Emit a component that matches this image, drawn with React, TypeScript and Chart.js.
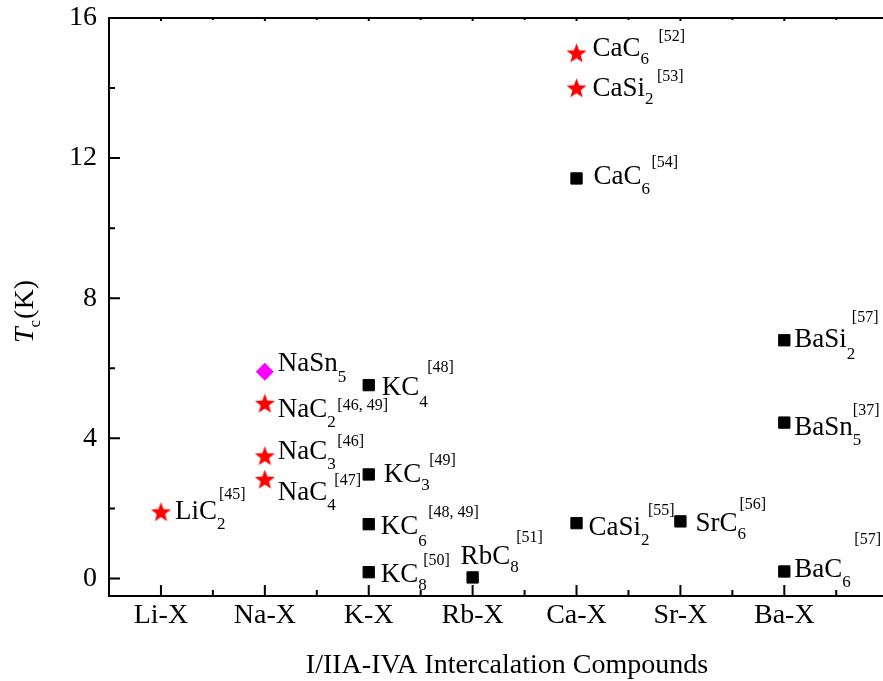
import React, { useEffect, useRef } from "react";
import { Chart, registerables } from "chart.js";

Chart.register(...registerables);

// Host families on the x axis (index 1..7)
const hosts = ["Li-X", "Na-X", "K-X", "Rb-X", "Ca-X", "Sr-X", "Ba-X"];
const yTicks = [0, 4, 8, 12, 16];

// Red stars
const starHost = [1, 2, 2, 2, 5, 5];
const starTc = [1.9, 5.0, 3.5, 2.83, 15.0, 14.0];
const starBase = ["LiC", "NaC", "NaC", "NaC", "CaC", "CaSi"];
const starSub = ["2", "2", "3", "4", "6", "2"];
const starRef = ["[45]", "[46, 49]", "[46]", "[47]", "[52]", "[53]"];

// Magenta diamond
const diamondHost = [2];
const diamondTc = [5.9];
const diamondBase = ["NaSn"];
const diamondSub = ["5"];
const diamondRef = [""];

// Black squares
const squareHost = [3, 3, 3, 3, 4, 5, 5, 6, 7, 7, 7];
const squareTc = [5.52, 2.97, 1.55, 0.18, 0.03, 11.42, 1.58, 1.63, 6.8, 4.45, 0.2];
const squareBase = ["KC", "KC", "KC", "KC", "RbC", "CaC", "CaSi", "SrC", "BaSi", "BaSn", "BaC"];
const squareSub = ["4", "3", "6", "8", "8", "6", "2", "6", "2", "5", "6"];
const squareRef = ["[48]", "[49]", "[48, 49]", "[50]", "[51]", "[54]", "[55]", "[56]", "[57]", "[37]", "[57]"];

// Label placement in pixels: [dx, dy, subDy, supDx, supDy]
const starOffsets = [
  [14, 7, 10, 2, -20],
  [13, 14, 10, 10, -7],
  [13, 3, 10, 10, -13],
  [13, 21, 10, 7, -15],
  [16, 3, 8, 18, -15],
  [16, 8, 8, 12, -15],
];
const diamondOffsets = [[13, -1, 11, 0, 0]];
const squareOffsets = [
  [13, 10, 12, 8, -23],
  [15, 8, 8, 8, -17],
  [12, 10, 12, 10, -17],
  [12, 10, 8, 5, -17],
  [-12, -13, 8, 6, -22],
  [17, 6, 10, 10, -17],
  [12, 12, 10, 7, -20],
  [15, 10, 8, 2, -22],
  [10, 7, 12, 5, -25],
  [10, 12, 10, 0, -20],
  [10, 6, 10, 12, -33],
];

const SERIF = "'Times New Roman', 'Liberation Serif', serif";

function makeStar(r: number, color: string): HTMLCanvasElement {
  const s = Math.ceil(r * 2) + 2;
  const c = document.createElement("canvas");
  c.width = s;
  c.height = s;
  const g = c.getContext("2d")!;
  g.fillStyle = color;
  g.beginPath();
  for (let k = 0; k < 10; k++) {
    const rad = k % 2 ? r * 0.42 : r;
    const a = -Math.PI / 2 + (k * Math.PI) / 5;
    g.lineTo(s / 2 + rad * Math.cos(a), s / 2 + rad * Math.sin(a) + r * 0.08);
  }
  g.closePath();
  g.fill();
  return c;
}

const toPoints = (xs: number[], ys: number[]) => xs.map((x, i) => ({ x, y: ys[i] }));

const labelSets = [
  { base: starBase, sub: starSub, ref: starRef, off: starOffsets },
  { base: diamondBase, sub: diamondSub, ref: diamondRef, off: diamondOffsets },
  { base: squareBase, sub: squareSub, ref: squareRef, off: squareOffsets },
];

const frameAndTicks = {
  id: "frameAndTicks",
  beforeDatasetsDraw(chart: any) {
    const { ctx, chartArea } = chart;
    const { left, right, top, bottom } = chartArea;
    const xs = chart.scales.x;
    const ys = chart.scales.y;
    ctx.save();
    ctx.strokeStyle = "#000";
    ctx.lineWidth = 2;
    ctx.beginPath();
    ctx.moveTo(left - 1, top);
    ctx.lineTo(right + 2, top);
    ctx.moveTo(left, top - 1);
    ctx.lineTo(left, bottom + 1);
    ctx.moveTo(left - 1, bottom);
    ctx.lineTo(right + 2, bottom);
    ctx.stroke();

    ctx.beginPath();
    // x ticks (bottom and top, pointing inward)
    for (let i = 0; i < hosts.length; i++) {
      const major = xs.getPixelForValue(i + 1);
      const minor = xs.getPixelForValue(i + 1.5);
      ctx.moveTo(major, bottom);
      ctx.lineTo(major, bottom - 11);
      ctx.moveTo(major, top);
      ctx.lineTo(major, top + 3);
      if (minor < right) {
        ctx.moveTo(minor, bottom);
        ctx.lineTo(minor, bottom - 6);
        ctx.moveTo(minor, top);
        ctx.lineTo(minor, top + 2);
      }
    }
    // y ticks
    for (let i = 0; i < yTicks.length; i++) {
      const major = ys.getPixelForValue(yTicks[i]);
      ctx.moveTo(left, major);
      ctx.lineTo(left + 11, major);
      if (i < yTicks.length - 1) {
        const minor = ys.getPixelForValue((yTicks[i] + yTicks[i + 1]) / 2);
        ctx.moveTo(left, minor);
        ctx.lineTo(left + 6, minor);
      }
    }
    ctx.stroke();
    ctx.restore();
  },
  afterDatasetsDraw(chart: any) {
    const { ctx } = chart;
    ctx.save();
    ctx.fillStyle = "#000";
    ctx.textBaseline = "alphabetic";
    ctx.textAlign = "left";
    labelSets.forEach((set, di) => {
      const meta = chart.getDatasetMeta(di);
      meta.data.forEach((el: any, j: number) => {
        const [dx, dy, subDy, supDx, supDy] = set.off[j];
        const x0 = el.x + dx;
        const y0 = el.y + dy;
        ctx.font = `27px ${SERIF}`;
        ctx.fillText(set.base[j], x0, y0);
        const w = ctx.measureText(set.base[j]).width;
        ctx.font = `17px ${SERIF}`;
        ctx.fillText(set.sub[j], x0 + w, y0 + subDy);
        if (set.ref[j]) {
          ctx.font = `16px ${SERIF}`;
          ctx.fillText(set.ref[j], x0 + w + supDx, y0 + supDy);
        }
      });
    });

    // axis titles
    ctx.textAlign = "center";
    ctx.font = `28px ${SERIF}`;
    ctx.fillText("I/IIA-IVA Intercalation Compounds", 507, 673);

    ctx.translate(33, 343);
    ctx.rotate(-Math.PI / 2);
    ctx.textAlign = "left";
    ctx.font = `italic 28px ${SERIF}`;
    ctx.fillText("T", 0, 0);
    let w = ctx.measureText("T").width;
    ctx.font = `17px ${SERIF}`;
    ctx.fillText("c", w, 7);
    w += ctx.measureText("c").width + 1;
    ctx.font = `28px ${SERIF}`;
    ctx.fillText("(K)", w, 0);
    ctx.restore();
  },
};

export default function App() {
  const ref = useRef<HTMLCanvasElement | null>(null);

  useEffect(() => {
    if (!ref.current) return;
    const star = makeStar(10.5, "#ff0000");
    const chart = new Chart(ref.current, {
      type: "scatter",
      data: {
        datasets: [
          {
            label: "stars",
            data: toPoints(starHost, starTc),
            pointStyle: star as any,
            pointRadius: 10,
            backgroundColor: "#ff0000",
          },
          {
            label: "diamond",
            data: toPoints(diamondHost, diamondTc),
            pointStyle: "rectRot",
            pointRadius: 9,
            backgroundColor: "#ff00ff",
            borderColor: "#ff00ff",
            borderWidth: 0,
          },
          {
            label: "squares",
            data: toPoints(squareHost, squareTc),
            pointStyle: "rect",
            pointRadius: 8,
            backgroundColor: "#000",
            borderColor: "#000",
            borderWidth: 1,
          },
        ],
      },
      options: {
        responsive: false,
        animation: false,
        events: [],
        layout: { autoPadding: false, padding: { top: 18, right: 0, left: 0, bottom: 0 } },
        plugins: { legend: { display: false }, tooltip: { enabled: false } },
        scales: {
          x: {
            type: "linear",
            min: 0.5,
            max: 7.95,
            grid: { display: false, drawTicks: false },
            border: { display: false },
            afterBuildTicks: (axis: any) => {
              axis.ticks = hosts.map((_, i) => ({ value: i + 1 }));
            },
            afterFit: (axis: any) => {
              axis.height = 85;
              axis.paddingLeft = 0;
              axis.paddingRight = 0;
            },
            ticks: {
              padding: 3,
              color: "#000",
              font: { family: SERIF, size: 28 },
              callback: (v: any) => hosts[Math.round(Number(v)) - 1] ?? "",
            },
          },
          y: {
            type: "linear",
            min: -0.5,
            max: 16,
            grid: { display: false, drawTicks: false },
            border: { display: false },
            afterBuildTicks: (axis: any) => {
              axis.ticks = yTicks.map((v) => ({ value: v }));
            },
            afterFit: (axis: any) => {
              axis.width = 109;
              axis.paddingTop = 0;
              axis.paddingBottom = 0;
            },
            ticks: {
              padding: 12,
              color: "#000",
              font: { family: SERIF, size: 28 },
            },
          },
        },
      },
      plugins: [frameAndTicks],
    });
    return () => chart.destroy();
  }, []);

  return (
    <div style={{ position: "fixed", left: 0, top: 0, width: 883, height: 681, background: "#fff" }}>
      <canvas ref={ref} width={883} height={681} style={{ display: "block" }} />
    </div>
  );
}
